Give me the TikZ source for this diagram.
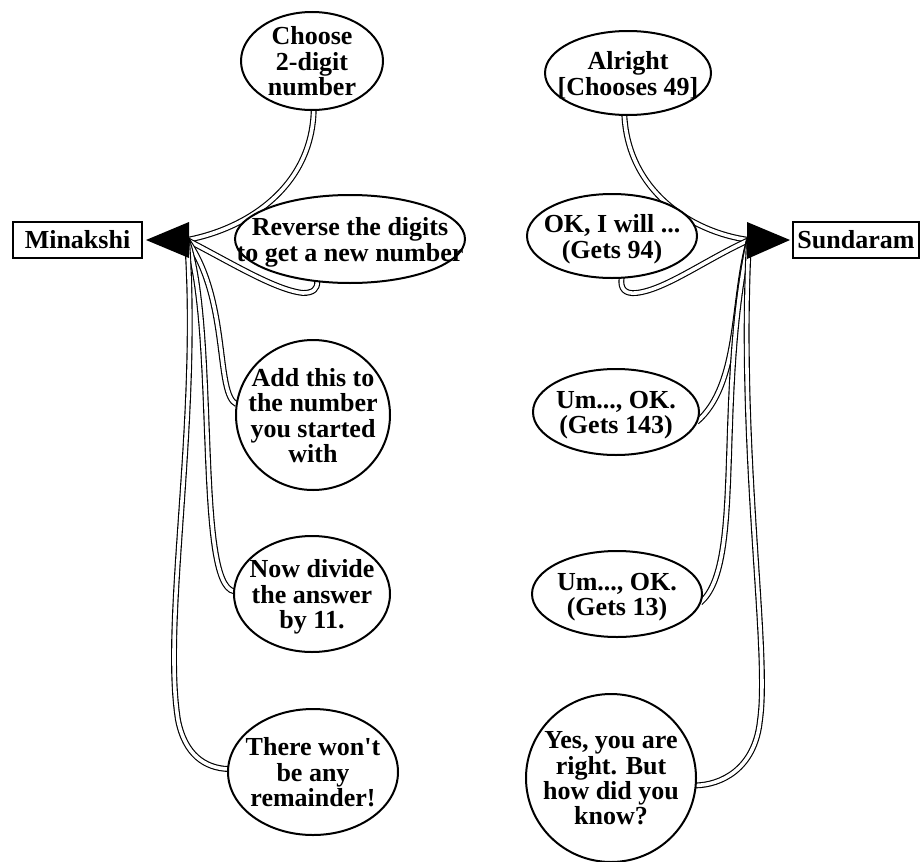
\documentclass[tikz,border=0pt]{standalone}
\usepackage{fontspec}
\setmainfont{Liberation Serif}
\usetikzlibrary{shapes.geometric}
\pgfdeclarelayer{bg}
\pgfsetlayers{bg,main}
\newcommand\btext[1]{\vbox to 0pt{\vss\kern8pt\hbox to 0pt{\hss\fontsize{26}{24.5}\selectfont\bfseries\begin{tabular}{@{}c@{}}#1\end{tabular}\hss}\vss}}
\begin{document}
\begin{tikzpicture}[x=1pt,y=-1pt,
  bubble/.style={draw, ellipse, line width=2pt, fill=white, inner sep=0pt, outer sep=0pt},
  namebox/.style={draw, line width=2pt, fill=white, inner sep=0pt, minimum height=36pt, font=\fontsize{26}{26}\selectfont\bfseries},
  tail/.style={line width=1.15pt, double=white, double distance=3.6pt, line join=round}]
\useasboundingbox (0,0) rectangle (921,862);
% names
\node[namebox, minimum width=129pt] (mina) at (77.5,240) {Minakshi};
\node[namebox, minimum width=126pt] (sund) at (856,240) {Sundaram};
% left bubbles
\node[bubble, minimum width=142pt, minimum height=98pt] (b1) at (312,61) {\btext{Choose\\2-digit\\number}};
\node[bubble, minimum width=230pt, minimum height=88pt] (b2) at (350,239) {\btext{Reverse the digits\\to get a new number}};
\node[bubble, minimum width=154pt, minimum height=150pt] (b3) at (313,415) {\btext{Add this to\\the number\\you started\\with}};
\node[bubble, minimum width=156pt, minimum height=116pt] (b4) at (312,594) {\btext{Now divide\\the answer\\by 11.}};
\node[bubble, minimum width=170pt, minimum height=126pt] (b5) at (313,772) {\btext{There won\textquotesingle t\\be any\\remainder!}};
% right bubbles
\node[bubble, minimum width=166pt, minimum height=84pt] (r1) at (628,73) {\btext{Alright\\{}[Chooses 49]}};
\node[bubble, minimum width=170pt, minimum height=84pt] (r2) at (612,236) {\btext{OK, I will ...\\(Gets 94)}};
\node[bubble, minimum width=166pt, minimum height=86pt] (r3) at (616,412) {\btext{Um..., OK.\\(Gets 143)}};
\node[bubble, minimum width=170pt, minimum height=86pt] (r4) at (617,594) {\btext{Um..., OK.\\(Gets 13)}};
\node[bubble, minimum width=170pt, minimum height=168pt] (r5) at (611,778) {\btext{Yes, you are\\right. But\\how did you\\know?}};
% convergence points
\coordinate (mL) at (187,240);
\coordinate (mR) at (749,240);
\begin{pgfonlayer}{bg}
\draw[tail] (b1.272) .. controls (312,185) and (250,228) .. (mL);
\draw[tail] (b2.232) .. controls (318,289) and (313,293) .. (303,293) .. controls (275,290) and (230,262) .. (mL);
\draw[tail] (b3.172) .. controls (215,395) and (230,300) .. (mL);
\draw[tail] (b4.178) .. controls (195,585) and (218,330) .. (mL);
\draw[tail] (b5.178) .. controls (205,768) and (185,755) .. (178,720) .. controls (162,620) and (200,420) .. (mL);
\draw[tail] (r1.265) .. controls (628,190) and (690,232) .. (mR);
\draw[tail] (r2.283) .. controls (620,289) and (625,294) .. (636,293) .. controls (665,290) and (705,260) .. (mR);
\draw[tail] (r3.353) .. controls (740,385) and (732,300) .. (mR);
\draw[tail] (r4.354) .. controls (745,565) and (715,400) .. (mR);
\draw[tail] (r5.355) .. controls (720,785) and (755,770) .. (760,720) .. controls (770,650) and (738,450) .. (mR);
\end{pgfonlayer}
% arrowheads
\fill (146,240) -- (189,222) -- (189,258) -- cycle;
\fill (790,240) -- (747,222) -- (747,259) -- cycle;
\end{tikzpicture}
\end{document}
